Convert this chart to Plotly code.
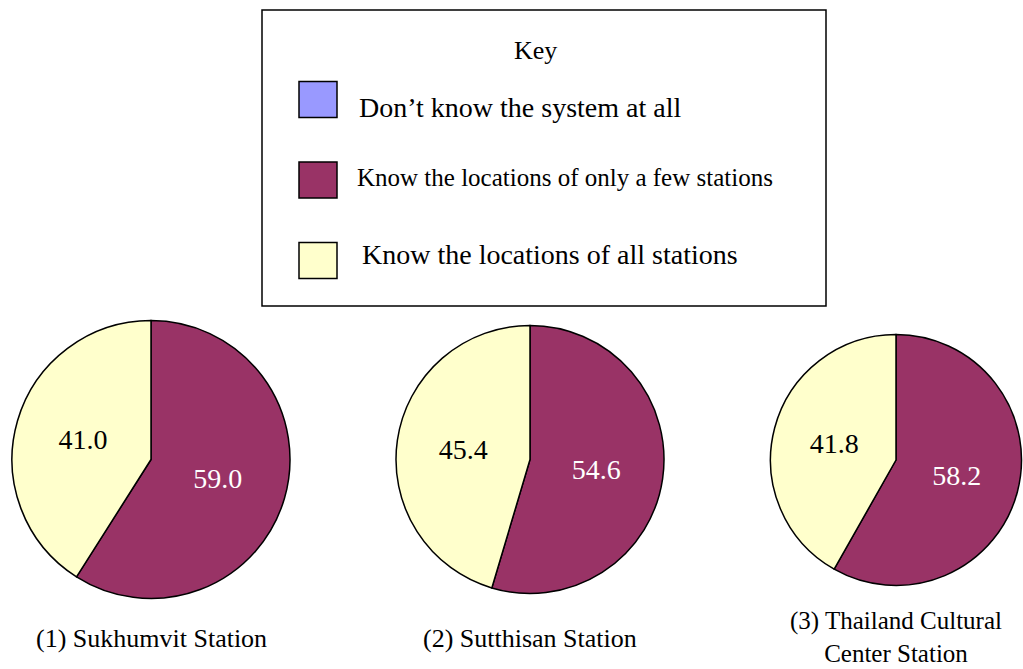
import plotly.graph_objects as go

# Survey categories and colours
categories = [
    "Don\u2019t know the system at all",
    "Know the locations of only a few stations",
    "Know the locations of all stations",
]
colors = ["#9999FF", "#993366", "#FFFFCC"]
text_colors = ["black", "white", "black"]

# Station names and percentage shares (per category order above)
stations = [
    "(1) Sukhumvit Station",
    "(2) Sutthisan Station",
    "(3) Thailand Cultural<br>Center Station",
]
sukhumvit = [0.0, 59.0, 41.0]
sutthisan = [0.0, 54.6, 45.4]
cultural_center = [0.0, 58.2, 41.8]
series = [sukhumvit, sutthisan, cultural_center]

W, H = 1023, 669
FONT = "'Liberation Serif', 'Times New Roman', Times, serif"

# Pie placement in pixels: centre x, centre y (from top), radius
pie_geom = [(151, 459.5, 139), (530, 459.5, 134), (896, 460, 125.5)]
# Caption anchor (y from top) and vertical anchor per station
caption_y = [638, 638, 668]
caption_anchor = ["middle", "middle", "bottom"]
caption_size = [26, 26, 25]


def px(x):
    return x / W


def py(y):
    return (H - y) / H


fig = go.Figure()

for name, vals, (cx, cy, r) in zip(stations, series, pie_geom):
    fig.add_trace(go.Pie(
        labels=categories,
        values=vals,
        name=name,
        sort=False,
        direction="clockwise",
        rotation=0,
        marker=dict(colors=colors, line=dict(color="black", width=1.5)),
        texttemplate=["" if v == 0 else "%{value:.1f}" for v in vals],
        textposition="inside",
        insidetextorientation="horizontal",
        insidetextfont=dict(family=FONT, size=28, color=text_colors),
        hoverinfo="label+value",
        showlegend=False,
        domain=dict(x=[px(cx - r), px(cx + r)], y=[py(cy + r), py(cy - r)]),
    ))

annotations = []
shapes = []

# Station captions under each pie
for name, (cx, cy, r), ly, ya, fs in zip(stations, pie_geom, caption_y,
                                         caption_anchor, caption_size):
    annotations.append(dict(
        x=px(cx), y=py(ly), xref="paper", yref="paper",
        text=name, showarrow=False, xanchor="center", yanchor=ya,
        borderpad=0,
        font=dict(family=FONT, size=fs, color="black"),
    ))

# Key box
shapes.append(dict(
    type="rect", xref="paper", yref="paper",
    x0=px(262), x1=px(826), y0=py(306), y1=py(10),
    line=dict(color="black", width=1.5), fillcolor="white", layer="below",
))
annotations.append(dict(
    x=px(535), y=py(50), xref="paper", yref="paper", text="Key",
    showarrow=False, xanchor="center", yanchor="middle",
    font=dict(family=FONT, size=26, color="black"),
))

swatch_y = [99.5, 180, 260.5]
text_y = [107, 178, 254]
text_x = [357, 355, 360]
text_size = [28, 25, 28]
for cat, col, sy, ty, tx, ts in zip(categories, colors, swatch_y, text_y, text_x, text_size):
    shapes.append(dict(
        type="rect", xref="paper", yref="paper",
        x0=px(299), x1=px(337), y0=py(sy + 18), y1=py(sy - 18),
        line=dict(color="black", width=1.5), fillcolor=col,
    ))
    annotations.append(dict(
        x=px(tx), y=py(ty), xref="paper", yref="paper", text=cat,
        showarrow=False, xanchor="left", yanchor="middle",
        font=dict(family=FONT, size=ts, color="black"),
    ))

fig.update_layout(
    width=W, height=H,
    margin=dict(l=0, r=0, t=0, b=0),
    paper_bgcolor="white",
    plot_bgcolor="white",
    shapes=shapes,
    annotations=annotations,
)

fig.write_html("out.html")
